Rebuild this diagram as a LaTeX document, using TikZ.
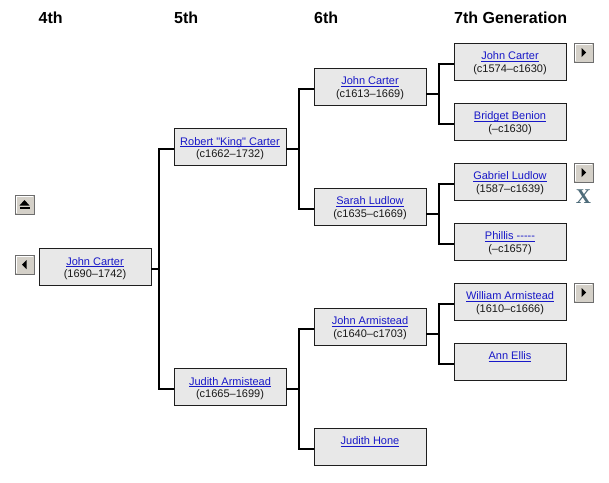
\documentclass[tikz,border=0pt]{standalone}
\usepackage{fontspec}
\newfontfamily\pfont{Liberation Sans}
\newfontfamily\xfont{Liberation Serif}
\usetikzlibrary{calc}
\definecolor{boxfill}{RGB}{232,232,232}
\definecolor{boxline}{RGB}{30,30,30}
\definecolor{linkblue}{RGB}{24,24,200}
\definecolor{datecol}{RGB}{25,25,25}
\definecolor{btnface}{RGB}{212,208,200}
\definecolor{btndark}{RGB}{110,110,110}
\definecolor{xcol}{RGB}{78,108,122}
\newcommand\lnk[1]{{\color{linkblue}\setbox0\hbox{#1}\rlap{\rule[-1.5pt]{\wd0}{0.8pt}}\box0}}
\newcommand\who[2]{\rule{0pt}{11.4pt}\lnk{#1}\\\rule[-2.3pt]{0pt}{8pt}#2}
\newcommand\btnhl{\draw[white,line width=1pt] ([xshift=1.5pt,yshift=1.5pt]path picture bounding box.south west) |- ([xshift=-1.5pt,yshift=-1.5pt]path picture bounding box.north east);}
\begin{document}
\begin{tikzpicture}[x=1pt,y=-1pt,
  person/.style={draw=boxline, line width=0.9pt, fill=boxfill,
    minimum width=112pt, minimum height=37pt, inner sep=0pt, align=center,
    font=\pfont\fontsize{11}{12.5}\selectfont, text=datecol},
  conn/.style={line width=2pt, black},
  hdr/.style={anchor=base west, inner sep=0pt, font=\pfont\bfseries\fontsize{16}{19}\selectfont},
  btn/.style={minimum width=19pt, minimum height=19pt, inner sep=0pt,
    fill=btnface, draw=btndark, line width=1pt},
  btnright/.style={btn, path picture={\btnhl
    \fill[black] (path picture bounding box.center) ++(-2,-4.5) -- ++(0,9) -- ++(4.5,-4.5) -- cycle;}},
  btnleft/.style={btn, path picture={\btnhl
    \fill[black] (path picture bounding box.center) ++(2,-4.5) -- ++(0,9) -- ++(-4.5,-4.5) -- cycle;}},
  btneject/.style={btn, path picture={\btnhl
    \fill[black] (path picture bounding box.center) ++(-5,1) -- ++(10,0) -- ++(-5,-5.5) -- cycle;
    \fill[black] (path picture bounding box.center) ++(-5,2.5) rectangle ++(10,2.2);}},
]
\fill[white] (0,0) rectangle (609,482);
\useasboundingbox (0,0) rectangle (609,482);

% headers
\node[hdr] (h4) at (38.5,23) {4th};
\node[hdr] (h5) at (174,23) {5th};
\node[hdr] (h6) at (314,23) {6th};
\node[hdr] (h7) at (454,23) {7th Generation};

% people
\node[person] (p4)  at (95,267)    {\who{John Carter}{(1690–1742)}};
\node[person] (p5a) at (230,147)   {\who{Robert "King" Carter}{(c1662–1732)}};
\node[person] (p5b) at (230,387)   {\who{Judith Armistead}{(c1665–1699)}};
\node[person] (p6a) at (370,86.5)  {\who{John Carter}{(c1613–1669)}};
\node[person] (p6b) at (370,206.5) {\who{Sarah Ludlow}{(c1635–c1669)}};
\node[person] (p6c) at (370,326.5) {\who{John Armistead}{(c1640–c1703)}};
\node[person] (p6d) at (370,446.5) {\who{Judith Hone}{}};
\node[person] (p7a) at (510,61.5)  {\who{John Carter}{(c1574–c1630)}};
\node[person] (p7b) at (510,121.5) {\who{Bridget Benion}{(–c1630)}};
\node[person] (p7c) at (510,181.5) {\who{Gabriel Ludlow}{(1587–c1639)}};
\node[person] (p7d) at (510,241.5) {\who{Phillis -\kern0pt-\kern0pt-\kern0pt-\kern0pt-}{(–c1657)}};
\node[person] (p7e) at (510,301.5) {\who{William Armistead}{(1610–c1666)}};
\node[person] (p7f) at (510,361.5) {\who{Ann Ellis}{}};

% connectors: bracket to children, then parent to bracket midpoint
\foreach \pp/\ca/\cb/\m in {p4/p5a/p5b/k1, p5a/p6a/p6b/k2, p5b/p6c/p6d/k3,
                            p6a/p7a/p7b/k4, p6b/p7c/p7d/k5, p6c/p7e/p7f/k6}{
  \draw[conn] ([yshift=-2pt]\ca.west) -- ++(-14.5,0) |- ([yshift=-2pt]\cb.west);
  \coordinate (\m) at ($(\ca.west)!0.5!(\cb.west)+(-14.5,2)$);
  \draw[conn] (\pp.east |- \m) -- ([xshift=1pt]\m);
}

% buttons
\node[btneject] (be) at (24.5,204.5) {};
\node[btnleft]  (bl) at (24.5,264.5) {};
\node[btnright] (br1) at (583.5,52.5) {};
\node[btnright] (br2) at (583.5,172.5) {};
\node[btnright] (br3) at (583.5,292.5) {};
\node[text=xcol, font=\xfont\bfseries\fontsize{21}{21}\selectfont, inner sep=0pt] (xm) at (583.5,197) {X};
\end{tikzpicture}
\end{document}
